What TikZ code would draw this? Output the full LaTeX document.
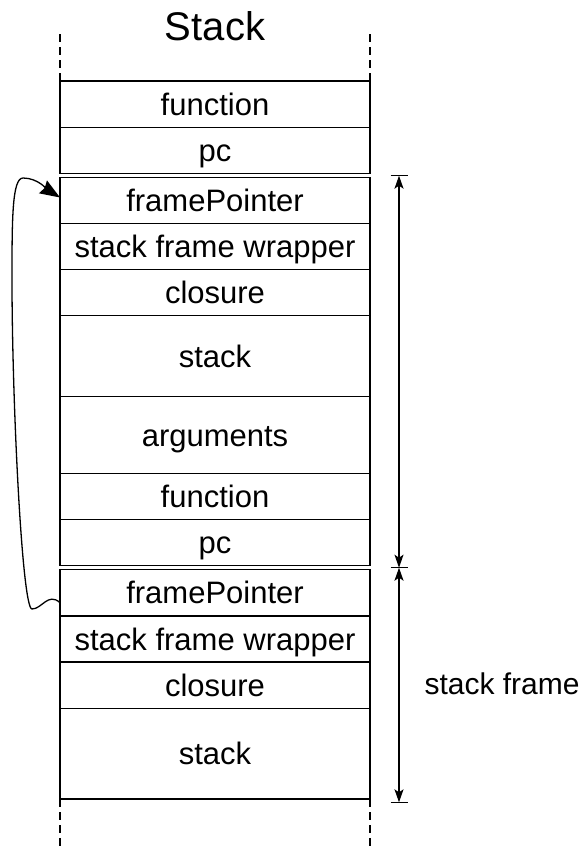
\documentclass[tikz,border=0pt]{standalone}
\usepackage{fontspec}
\setmainfont{Liberation Sans}
\usetikzlibrary{arrows.meta}

\begin{document}
\begin{tikzpicture}[x=1pt, y=-1pt,
  cell/.style={draw, line width=1.5pt, inner sep=0pt, outer sep=0pt,
               minimum width=310pt, text height=22.2pt, text depth=0pt,
               font=\fontsize{31}{36}\selectfont},
  dashline/.style={line width=1.5pt, dash pattern=on 8pt off 5pt},
  span/.style={line width=1.3pt, {Stealth[length=13pt,width=9pt,inset=3pt]}-{Stealth[length=13pt,width=9pt,inset=3pt]}},
  barline/.style={line width=1.3pt},
  link/.style={line width=1.3pt, -{Stealth[length=20pt,width=15pt,inset=2pt]}}]
\useasboundingbox (0,0) rectangle (583,848);

% title
\node[font=\fontsize{40}{46}\selectfont, anchor=base] (title) at (215,41) {Stack};

% upper frame cells (x centre 215)
\node[cell, minimum height=46.5pt] (fn1)  at (215,104.25) {function};
\node[cell, minimum height=46.2pt] (pc1)  at (215,150.6)  {pc};
\node[cell, minimum height=45.6pt] (fp1)  at (215,200.5)  {framePointer};
\node[cell, minimum height=46pt]   (sfw1) at (215,246.3)  {stack frame wrapper};
\node[cell, minimum height=46pt]   (cl1)  at (215,292.3)  {closure};
\node[cell, minimum height=81.4pt] (st1)  at (215,356)    {stack};
\node[cell, minimum height=76.6pt] (arg)  at (215,435)    {arguments};
\node[cell, minimum height=46pt]   (fn2)  at (215,496.3)  {function};
\node[cell, minimum height=46pt]   (pc2)  at (215,542.3)  {pc};

% lower frame cells
\node[cell, minimum height=46.7pt] (fp2)  at (215,592.65) {framePointer};
\node[cell, minimum height=46pt]   (sfw2) at (215,639)    {stack frame wrapper};
\node[cell, minimum height=46.3pt] (cl2)  at (215,685.15) {closure};
\node[cell, minimum height=90.7pt] (st2)  at (215,753.65) {stack};

% open ends of the stack
\coordinate (tl) at (60,33);
\coordinate (tr) at (370,33);
\coordinate (bl) at (60,848);
\coordinate (br) at (370,848);
\draw[dashline] (fn1.north west) -- (tl);
\draw[dashline] (fn1.north east) -- (tr);
\draw[dashline] (st2.south west) -- (bl);
\draw[dashline] (st2.south east) -- (br);

% frame extents
\coordinate (bt) at (399,175.7);
\coordinate (bm) at (399,567.7);
\coordinate (bb) at (399,802.3);
\draw[span] (bt) -- (bm);
\draw[span] (bm) -- (bb);
\foreach \p in {bt,bm,bb}
  \draw[barline] ([xshift=-8.5pt]\p) -- ([xshift=8.5pt]\p);

\node[font=\fontsize{30}{36}\selectfont, anchor=base west] (sflabel) at (421,694) {stack frame};

% saved frame pointer links to the previous frame
\coordinate (fpsrc) at ([yshift=-10pt]fp2.west);
\coordinate (fpdst) at ([yshift=3pt]fp1.west);
\draw[link] (fpsrc)
  .. controls (48,592) and (42,609) .. (32,609)
  .. controls (22,609) and (12,400) .. (12,280)
  .. controls (12,220) and (12,178) .. (23,178)
  .. controls (38,178) and (48,190) .. (fpdst);
\end{tikzpicture}
\end{document}
